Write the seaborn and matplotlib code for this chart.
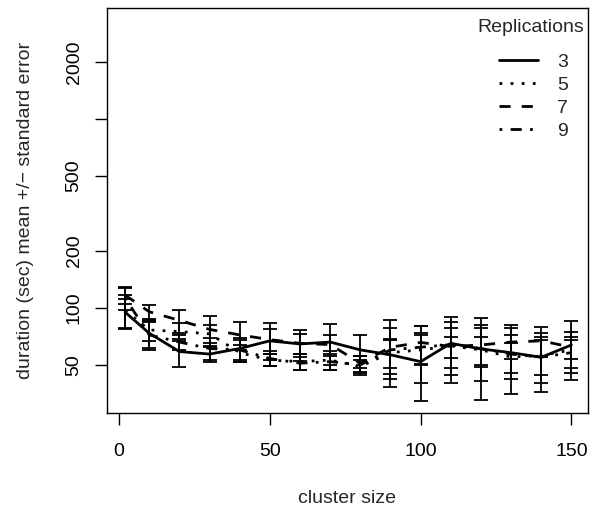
import numpy as np
import pandas as pd
import matplotlib
matplotlib.use("Agg")
import matplotlib.pyplot as plt
import seaborn as sns
from matplotlib.lines import Line2D

# cluster sizes on the x axis
cluster_size = [2, 10, 20, 30, 40, 50, 60, 70, 80, 90, 100, 110, 120, 130, 140, 150]

# mean duration (sec) per number of replications
mean_r3 = [95, 73.5, 58.8, 57, 61, 67, 64.5, 66, 60, 56.5, 52, 65, 60.7, 58, 54.8, 63.7]
mean_r5 = [97, 76.5, 75, 73, 58, 53, 52, 53, 49, 58, 60, 63, 60, 55, 56, 60]
mean_r7 = [117, 95.5, 86, 77, 72, 68, 65, 64, 51, 62, 65.7, 62.5, 63.7, 66, 67, 62]
mean_r9 = [113, 72, 66, 61, 60, 54, 51, 52, 50, 60, 62, 64, 61, 57, 55, 58]

# standard errors
se_r3 = [17, 12, 10, 5, 8, 10, 12, 16, 12, 12, 20, 25, 28, 23, 19, 22]
se_r5 = [20, 10, 8, 8, 6, 4, 5, 6, 4, 10, 20, 15, 10, 10, 12, 15]
se_r7 = [12, 8, 12, 14, 12, 15, 8, 8, 5, 24, 15, 8, 15, 12, 12, 8]
se_r9 = [15, 12, 6, 8, 8, 5, 4, 5, 6, 18, 12, 20, 20, 15, 15, 10]

replications = ["3", "5", "7", "9"]
means = [mean_r3, mean_r5, mean_r7, mean_r9]
ses = [se_r3, se_r5, se_r7, se_r9]

df = pd.concat([
    pd.DataFrame({"cluster": cluster_size, "duration": m, "se": s, "Replications": r})
    for r, m, s in zip(replications, means, ses)
], ignore_index=True)

sns.set_style("ticks")
plt.rcParams["font.family"] = ["Liberation Sans", "DejaVu Sans"]

dashes = {"3": "", "5": (1, 3), "7": (4, 4), "9": (1, 3, 4, 3)}

fig = plt.figure(figsize=(5.92, 5.18), dpi=100)
ax = fig.add_axes([107 / 592, 1 - 413 / 518, (588 - 107) / 592, (413 - 8) / 518])

sns.lineplot(data=df, x="cluster", y="duration", style="Replications",
             dashes=dashes, color="black", linewidth=2, legend=False, ax=ax)

for r in replications:
    d = df[df["Replications"] == r]
    ax.errorbar(d["cluster"], d["duration"], yerr=d["se"], fmt="none",
                ecolor="black", elinewidth=1.3, capsize=4.7, capthick=1.3)

ax.set_yscale("log")
ax.set_ylim(27.8, 3870)
ax.set_xlim(-4, 155.5)
ax.set_yticks([50, 100, 200, 500, 1000, 2000])
ax.set_yticklabels(["50", "100", "200", "500", "", "2000"], rotation=90, va="center")
ax.minorticks_off()
ax.set_xticks([0, 50, 100, 150])

for sp in ax.spines.values():
    sp.set_visible(True)
    sp.set_color("black")
    sp.set_linewidth(1)

ax.tick_params(axis="both", direction="out", length=8.5, width=1, colors="black",
               labelsize=14)
ax.tick_params(axis="x", pad=13)
ax.tick_params(axis="y", pad=9)

ax.set_xlabel("cluster size", fontsize=14, labelpad=22)
ax.set_ylabel("duration (sec) mean +/\u2212 standard error", fontsize=14, labelpad=23)

# legend entries, title placed separately so the gap matches
handles = [Line2D([0], [0], color="black", linewidth=2,
                  linestyle="-" if dashes[r] == "" else (0, dashes[r]))
           for r in replications]
ax.legend(handles, replications, loc="upper right",
          bbox_to_anchor=(0.975, 0.907), frameon=False, fontsize=14,
          handlelength=2.0, handletextpad=1.0, labelspacing=0.28,
          borderaxespad=0.0, borderpad=0.4)
fig.text(531 / 592, 1 - 28 / 518, "Replications", fontsize=14, ha="center", va="center")

fig.savefig("out.png", dpi=100)
